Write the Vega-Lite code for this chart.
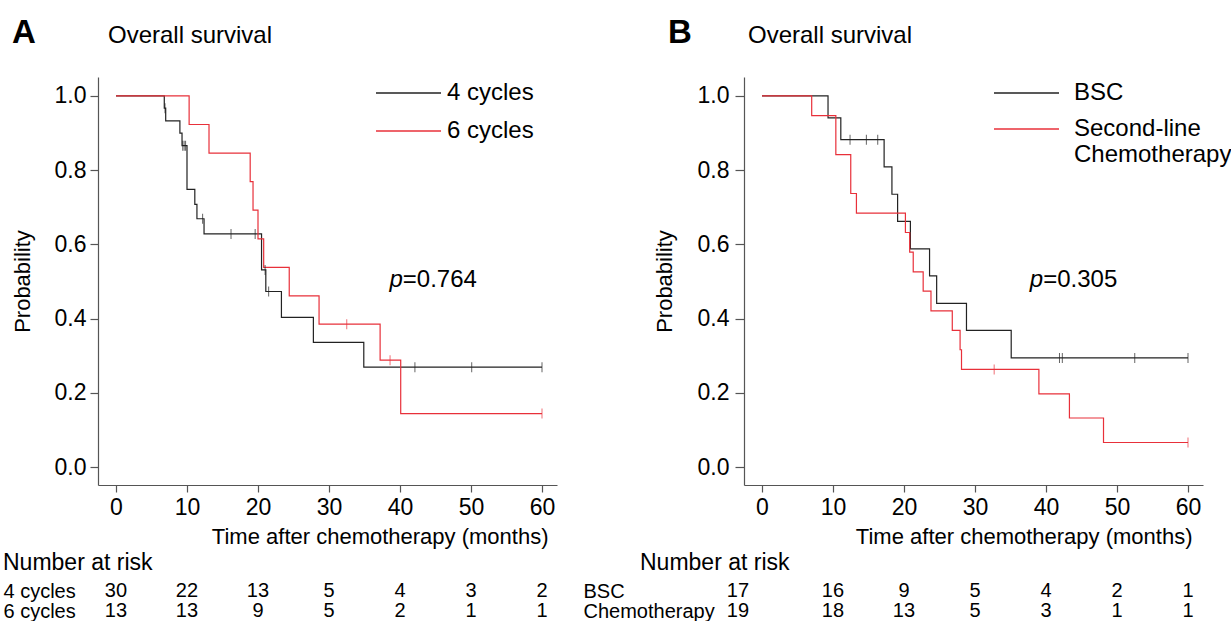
{
  "$schema": "https://vega.github.io/schema/vega-lite/v6.json",
  "autosize": {"type": "pad"},
  "padding": {"left": 3, "top": 17, "right": 4, "bottom": 0},
  "background": "white",
  "config": {
    "font": "Liberation Sans",
    "view": {"stroke": null},
    "axis": {"grid": false, "domainColor": "#555555", "tickColor": "#555555", "labelColor": "#000000", "titleColor": "#000000", "labelFont": "Liberation Sans", "titleFont": "Liberation Sans", "labelFontSize": 23, "titleFontSize": 22, "titleFontWeight": "normal", "domainWidth": 1.2, "tickWidth": 1.2},
    "title": {"font": "Liberation Sans", "fontWeight": "normal", "color": "#000000"},
    "legend": {"labelFont": "Liberation Sans", "labelColor": "#000000"}
  },
  "datasets": {
    "kmA": [
      {"group": "4 cycles", "time": 0, "surv": 1.0},
      {"group": "4 cycles", "time": 6.8, "surv": 0.967},
      {"group": "4 cycles", "time": 7.0, "surv": 0.933},
      {"group": "4 cycles", "time": 9.0, "surv": 0.900},
      {"group": "4 cycles", "time": 9.3, "surv": 0.866},
      {"group": "4 cycles", "time": 10.0, "surv": 0.748},
      {"group": "4 cycles", "time": 11.1, "surv": 0.708},
      {"group": "4 cycles", "time": 11.4, "surv": 0.669},
      {"group": "4 cycles", "time": 12.4, "surv": 0.628},
      {"group": "4 cycles", "time": 20.5, "surv": 0.531},
      {"group": "4 cycles", "time": 21.1, "surv": 0.473},
      {"group": "4 cycles", "time": 23.3, "surv": 0.403},
      {"group": "4 cycles", "time": 27.8, "surv": 0.336},
      {"group": "4 cycles", "time": 34.9, "surv": 0.269},
      {"group": "4 cycles", "time": 60, "surv": 0.269},
      {"group": "6 cycles", "time": 0, "surv": 1.0},
      {"group": "6 cycles", "time": 10.3, "surv": 0.923},
      {"group": "6 cycles", "time": 13.1, "surv": 0.846},
      {"group": "6 cycles", "time": 18.9, "surv": 0.769},
      {"group": "6 cycles", "time": 19.3, "surv": 0.692},
      {"group": "6 cycles", "time": 20.0, "surv": 0.615},
      {"group": "6 cycles", "time": 20.8, "surv": 0.538},
      {"group": "6 cycles", "time": 24.4, "surv": 0.461},
      {"group": "6 cycles", "time": 28.6, "surv": 0.385},
      {"group": "6 cycles", "time": 37.2, "surv": 0.288},
      {"group": "6 cycles", "time": 40.1, "surv": 0.144},
      {"group": "6 cycles", "time": 60, "surv": 0.144}
    ],
    "censA": [
      {"group": "4 cycles", "time": 6.9, "surv": 0.967},
      {"group": "4 cycles", "time": 9.4, "surv": 0.866},
      {"group": "4 cycles", "time": 9.6, "surv": 0.866},
      {"group": "4 cycles", "time": 9.8, "surv": 0.866},
      {"group": "4 cycles", "time": 12.2, "surv": 0.669},
      {"group": "4 cycles", "time": 16.2, "surv": 0.628},
      {"group": "4 cycles", "time": 19.6, "surv": 0.628},
      {"group": "4 cycles", "time": 21.0, "surv": 0.531},
      {"group": "4 cycles", "time": 21.5, "surv": 0.473},
      {"group": "4 cycles", "time": 42.1, "surv": 0.269},
      {"group": "4 cycles", "time": 50.1, "surv": 0.269},
      {"group": "4 cycles", "time": 60, "surv": 0.269},
      {"group": "6 cycles", "time": 32.5, "surv": 0.385},
      {"group": "6 cycles", "time": 38.6, "surv": 0.288},
      {"group": "6 cycles", "time": 60, "surv": 0.144}
    ],
    "riskA": [
      {"group": "4 cycles", "time": 0, "n": 30},
      {"group": "4 cycles", "time": 10, "n": 22},
      {"group": "4 cycles", "time": 20, "n": 13},
      {"group": "4 cycles", "time": 30, "n": 5},
      {"group": "4 cycles", "time": 40, "n": 4},
      {"group": "4 cycles", "time": 50, "n": 3},
      {"group": "4 cycles", "time": 60, "n": 2},
      {"group": "6 cycles", "time": 0, "n": 13},
      {"group": "6 cycles", "time": 10, "n": 13},
      {"group": "6 cycles", "time": 20, "n": 9},
      {"group": "6 cycles", "time": 30, "n": 5},
      {"group": "6 cycles", "time": 40, "n": 2},
      {"group": "6 cycles", "time": 50, "n": 1},
      {"group": "6 cycles", "time": 60, "n": 1}
    ],
    "kmB": [
      {"group": "BSC", "time": 0, "surv": 1.0},
      {"group": "BSC", "time": 9.3, "surv": 0.941},
      {"group": "BSC", "time": 11.1, "surv": 0.882},
      {"group": "BSC", "time": 17.2, "surv": 0.809},
      {"group": "BSC", "time": 18.3, "surv": 0.735},
      {"group": "BSC", "time": 19.1, "surv": 0.662},
      {"group": "BSC", "time": 20.9, "surv": 0.588},
      {"group": "BSC", "time": 23.6, "surv": 0.515},
      {"group": "BSC", "time": 24.6, "surv": 0.441},
      {"group": "BSC", "time": 28.8, "surv": 0.368},
      {"group": "BSC", "time": 35.1, "surv": 0.294},
      {"group": "BSC", "time": 60, "surv": 0.294},
      {"group": "Second-line Chemotherapy", "time": 0, "surv": 1.0},
      {"group": "Second-line Chemotherapy", "time": 7.0, "surv": 0.947},
      {"group": "Second-line Chemotherapy", "time": 10.4, "surv": 0.842},
      {"group": "Second-line Chemotherapy", "time": 12.5, "surv": 0.737},
      {"group": "Second-line Chemotherapy", "time": 13.3, "surv": 0.684},
      {"group": "Second-line Chemotherapy", "time": 20.2, "surv": 0.632},
      {"group": "Second-line Chemotherapy", "time": 20.8, "surv": 0.579},
      {"group": "Second-line Chemotherapy", "time": 21.3, "surv": 0.526},
      {"group": "Second-line Chemotherapy", "time": 22.7, "surv": 0.474},
      {"group": "Second-line Chemotherapy", "time": 23.8, "surv": 0.421},
      {"group": "Second-line Chemotherapy", "time": 26.8, "surv": 0.368},
      {"group": "Second-line Chemotherapy", "time": 27.9, "surv": 0.316},
      {"group": "Second-line Chemotherapy", "time": 28.1, "surv": 0.263},
      {"group": "Second-line Chemotherapy", "time": 39.0, "surv": 0.197},
      {"group": "Second-line Chemotherapy", "time": 43.3, "surv": 0.132},
      {"group": "Second-line Chemotherapy", "time": 48.1, "surv": 0.066},
      {"group": "Second-line Chemotherapy", "time": 60, "surv": 0.066}
    ],
    "censB": [
      {"group": "BSC", "time": 12.4, "surv": 0.882},
      {"group": "BSC", "time": 14.7, "surv": 0.882},
      {"group": "BSC", "time": 16.3, "surv": 0.882},
      {"group": "BSC", "time": 41.9, "surv": 0.294},
      {"group": "BSC", "time": 42.3, "surv": 0.294},
      {"group": "BSC", "time": 52.5, "surv": 0.294},
      {"group": "BSC", "time": 60, "surv": 0.294},
      {"group": "Second-line Chemotherapy", "time": 32.7, "surv": 0.263},
      {"group": "Second-line Chemotherapy", "time": 60, "surv": 0.066}
    ],
    "riskB": [
      {"group": "BSC", "time": 0, "n": 17},
      {"group": "BSC", "time": 10, "n": 16},
      {"group": "BSC", "time": 20, "n": 9},
      {"group": "BSC", "time": 30, "n": 5},
      {"group": "BSC", "time": 40, "n": 4},
      {"group": "BSC", "time": 50, "n": 2},
      {"group": "BSC", "time": 60, "n": 1},
      {"group": "Chemotherapy", "time": 0, "n": 19},
      {"group": "Chemotherapy", "time": 10, "n": 18},
      {"group": "Chemotherapy", "time": 20, "n": 13},
      {"group": "Chemotherapy", "time": 30, "n": 5},
      {"group": "Chemotherapy", "time": 40, "n": 3},
      {"group": "Chemotherapy", "time": 50, "n": 1},
      {"group": "Chemotherapy", "time": 60, "n": 1}
    ],
    "pA": [{"lead": "p", "rest": "=0.764"}],
    "pB": [{"lead": "p", "rest": "=0.305"}]
  },
  "resolve": {"scale": {"color": "independent", "x": "independent", "y": "independent"}, "legend": {"color": "independent"}},
  "spacing": 26,
  "hconcat": [
    {
      "title": {"text": "A", "fontSize": 33, "fontWeight": "bold", "anchor": "start", "frame": "bounds", "dx": 9, "offset": -26},
      "spacing": 5,
      "resolve": {"scale": {"x": "independent", "y": "independent"}},
      "vconcat": [
        {
          "width": 459,
          "height": 408,
          "title": {"text": "Overall survival", "fontSize": 24, "anchor": "start", "frame": "group", "dx": 10, "offset": 29},
          "layer": [
            {
              "data": {"name": "kmA"},
              "mark": {"type": "line", "interpolate": "step-after", "strokeWidth": 1.2},
              "encoding": {
                "x": {"field": "time", "type": "quantitative", "scale": {"domain": [-2.535, 62.113], "nice": false, "zero": false},
                      "axis": {"values": [0, 10, 20, 30, 40, 50, 60], "title": "Time after chemotherapy (months)", "tickSize": 7, "labelPadding": 4, "titlePadding": 7, "titleAlign": "right", "titleX": 450}},
                "y": {"field": "surv", "type": "quantitative", "scale": {"domain": [-0.0485, 1.051], "nice": false, "zero": false},
                      "axis": {"values": [0, 0.2, 0.4, 0.6, 0.8, 1.0], "format": ".1f", "title": "Probability", "tickSize": 8, "labelPadding": 4, "titlePadding": 20}},
                "color": {"field": "group", "type": "nominal",
                          "scale": {"domain": ["4 cycles", "6 cycles"], "range": ["#222222", "#e8303a"]},
                          "legend": {"title": null, "orient": "none", "legendX": 277, "legendY": 3, "padding": 0, "symbolType": "stroke", "symbolSize": 4225, "symbolStrokeWidth": 1.6, "labelFontSize": 24, "labelOffset": 5, "clipHeight": 26, "rowPadding": 12, "labelLimit": 400}}
              }
            },
            {
              "data": {"name": "censA"},
              "mark": {"type": "tick", "orient": "vertical", "size": 10, "thickness": 1},
              "encoding": {
                "x": {"field": "time", "type": "quantitative"},
                "y": {"field": "surv", "type": "quantitative"},
                "color": {"field": "group", "type": "nominal", "legend": null}
              }
            },
            {
              "data": {"name": "pA"},
              "mark": {"type": "text", "fontSize": 24, "fontStyle": "italic", "align": "right", "baseline": "middle", "color": "#000000"},
              "encoding": {"x": {"datum": 40.4}, "y": {"datum": 0.504}, "text": {"field": "lead"}}
            },
            {
              "data": {"name": "pA"},
              "mark": {"type": "text", "fontSize": 24, "align": "left", "baseline": "middle", "color": "#000000"},
              "encoding": {"x": {"datum": 40.4}, "y": {"datum": 0.504}, "text": {"field": "rest"}}
            }
          ]
        },
        {
          "width": 459,
          "height": 40,
          "title": {"text": "Number at risk", "fontSize": 23, "anchor": "start", "frame": "group", "dx": -95, "offset": 6},
          "data": {"name": "riskA"},
          "mark": {"type": "text", "fontSize": 20, "baseline": "middle", "color": "#000000"},
          "encoding": {
            "x": {"field": "time", "type": "quantitative", "scale": {"domain": [-2.535, 62.113], "nice": false, "zero": false}, "axis": null},
            "y": {"field": "group", "type": "nominal", "sort": ["4 cycles", "6 cycles"], "scale": {"paddingInner": 0, "paddingOuter": 0},
                  "axis": {"title": null, "domain": false, "ticks": false, "tickSize": 0, "labelAlign": "left", "labelPadding": 95, "labelFontSize": 20, "labelBaseline": "middle", "labelLimit": 300}},
            "text": {"field": "n", "type": "quantitative"}
          }
        }
      ]
    },
    {
      "title": {"text": "B", "fontSize": 33, "fontWeight": "bold", "anchor": "start", "frame": "bounds", "dx": 85, "offset": -26},
      "spacing": 5,
      "resolve": {"scale": {"x": "independent", "y": "independent"}},
      "vconcat": [
        {
          "width": 459,
          "height": 408,
          "title": {"text": "Overall survival", "fontSize": 24, "anchor": "start", "frame": "group", "dx": 4, "offset": 29},
          "layer": [
            {
              "data": {"name": "kmB"},
              "mark": {"type": "line", "interpolate": "step-after", "strokeWidth": 1.2},
              "encoding": {
                "x": {"field": "time", "type": "quantitative", "scale": {"domain": [-2.535, 62.113], "nice": false, "zero": false},
                      "axis": {"values": [0, 10, 20, 30, 40, 50, 60], "title": "Time after chemotherapy (months)", "tickSize": 7, "labelPadding": 4, "titlePadding": 7, "titleAlign": "right", "titleX": 448}},
                "y": {"field": "surv", "type": "quantitative", "scale": {"domain": [-0.0485, 1.051], "nice": false, "zero": false},
                      "axis": {"values": [0, 0.2, 0.4, 0.6, 0.8, 1.0], "format": ".1f", "title": "Probability", "tickSize": 9, "labelPadding": 6, "titlePadding": 21}},
                "color": {"field": "group", "type": "nominal",
                          "scale": {"domain": ["BSC", "Second-line Chemotherapy"], "range": ["#222222", "#e8303a"]},
                          "legend": {"title": null, "orient": "none", "legendX": 249, "legendY": 3, "padding": 0, "symbolType": "stroke", "symbolSize": 4225, "symbolStrokeWidth": 1.6, "labelFontSize": 24, "labelOffset": 14, "clipHeight": 26, "rowPadding": 10, "labelLimit": 400,
                                     "labelExpr": "datum.label == 'Second-line Chemotherapy' ? ['Second-line', 'Chemotherapy'] : datum.label"}}
              }
            },
            {
              "data": {"name": "censB"},
              "mark": {"type": "tick", "orient": "vertical", "size": 10, "thickness": 1},
              "encoding": {
                "x": {"field": "time", "type": "quantitative"},
                "y": {"field": "surv", "type": "quantitative"},
                "color": {"field": "group", "type": "nominal", "legend": null}
              }
            },
            {
              "data": {"name": "pB"},
              "mark": {"type": "text", "fontSize": 24, "fontStyle": "italic", "align": "right", "baseline": "middle", "color": "#000000"},
              "encoding": {"x": {"datum": 39.6}, "y": {"datum": 0.504}, "text": {"field": "lead"}}
            },
            {
              "data": {"name": "pB"},
              "mark": {"type": "text", "fontSize": 24, "align": "left", "baseline": "middle", "color": "#000000"},
              "encoding": {"x": {"datum": 39.6}, "y": {"datum": 0.504}, "text": {"field": "rest"}}
            }
          ]
        },
        {
          "width": 459,
          "height": 40,
          "title": {"text": "Number at risk", "fontSize": 23, "anchor": "start", "frame": "group", "dx": -104, "offset": 6},
          "data": {"name": "riskB"},
          "encoding": {
            "x": {"field": "time", "type": "quantitative", "scale": {"domain": [-2.535, 62.113], "nice": false, "zero": false}, "axis": null},
            "y": {"field": "group", "type": "nominal", "sort": ["BSC", "Chemotherapy"], "scale": {"paddingInner": 0, "paddingOuter": 0},
                  "axis": {"title": null, "domain": false, "ticks": false, "tickSize": 0, "labelAlign": "left", "labelPadding": 161, "labelFontSize": 20, "labelBaseline": "middle", "labelLimit": 300}},
            "text": {"field": "n", "type": "quantitative"}
          },
          "layer": [
            {
              "transform": [{"filter": "datum.time > 0"}],
              "mark": {"type": "text", "fontSize": 20, "baseline": "middle", "color": "#000000"}
            },
            {
              "transform": [{"filter": "datum.time == 0"}],
              "mark": {"type": "text", "fontSize": 20, "baseline": "middle", "color": "#000000", "dx": -24}
            }
          ]
        }
      ]
    }
  ]
}
